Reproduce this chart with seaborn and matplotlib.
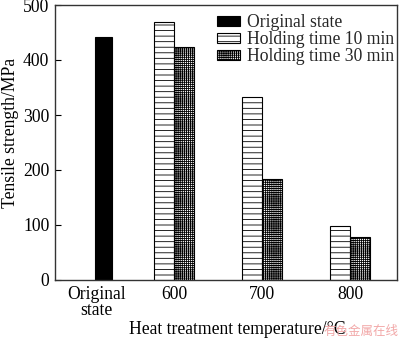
import numpy as np
import matplotlib
matplotlib.use('Agg')
import matplotlib.pyplot as plt
import seaborn as sns

# ---- data ----
categories = ['Original\nstate', '600', '700', '800']
series = ['Original state', 'Holding time 10 min', 'Holding time 30 min']
original_value = [441]
hold10_values = [470, 332, 98]
hold30_values = [423, 184, 79]
y_ticks = [0, 100, 200, 300, 400, 500]
x_label = 'Heat treatment temperature/\u00b0C'
y_label = 'Tensile strength/MPa'

sns.set_theme(style='ticks')
plt.rcParams['font.family'] = ['Liberation Serif', 'DejaVu Serif']
plt.rcParams['hatch.linewidth'] = 0.6
plt.rcParams['hatch.color'] = 'black'
FS = 12.7

fig = plt.figure(figsize=(4, 3.4), dpi=100)
ax = fig.add_axes([55 / 400, 1 - 280 / 340, 342 / 400, 275 / 340])

cat_pos = np.array([0.2, 1.0, 2.0, 3.0])
w = 0.227
w0 = 0.19

sns.barplot(x=cat_pos[:1], y=original_value, native_scale=True, orient='x',
            width=w0, color='black', saturation=1, edgecolor='black',
            linewidth=0.8, errorbar=None, ax=ax)
sns.barplot(x=cat_pos[1:] - w / 2, y=hold10_values, native_scale=True, orient='x',
            width=w, color='white', saturation=1, edgecolor='black', hatch='---',
            linewidth=0.8, errorbar=None, ax=ax)
sns.barplot(x=cat_pos[1:] + w / 2, y=hold30_values, native_scale=True, orient='x',
            width=w, color='white', saturation=1, edgecolor='black', hatch='++++++++',
            linewidth=0.8, errorbar=None, ax=ax)

ax.set_xlim(-0.352, 3.534)
ax.set_ylim(0, 500)
ax.set_yticks(y_ticks)
ax.set_yticklabels([str(v) for v in y_ticks], fontsize=FS)
ax.set_xticks([0.12, 1.0, 2.0, 3.0])
ax.set_xticklabels(categories, fontsize=FS, linespacing=0.95)
ax.tick_params(axis='x', length=0, pad=4, colors='black')
ax.tick_params(axis='y', direction='in', length=4, width=0.8, pad=4, colors='black')
for s in ax.spines.values():
    s.set_visible(True)
    s.set_color('#333333')
    s.set_linewidth(1.0)

ax.set_xlabel(x_label, fontsize=FS, color='black')
ax.xaxis.set_label_coords((237 - 55) / 342, -0.148)
ax.set_ylabel(y_label, fontsize=FS, color='black')
ax.yaxis.set_label_coords(-0.105, 0.535)

handles = [c.patches[0] for c in ax.containers]
ax.legend(handles, series, loc='upper left', bbox_to_anchor=((217 - 55) / 342, 0.968),
          frameon=False, fontsize=FS, borderpad=0, borderaxespad=0,
          handlelength=1.3, handleheight=0.5, handletextpad=0.4, labelspacing=0.0)

fig.text(398 / 400, 1 - 331 / 340, '有色金属在线', ha='right', va='center',
         fontsize=9, color='#f2a8a8', family=['Noto Sans CJK SC', 'DejaVu Sans'])

fig.savefig('out.png', dpi=100)
